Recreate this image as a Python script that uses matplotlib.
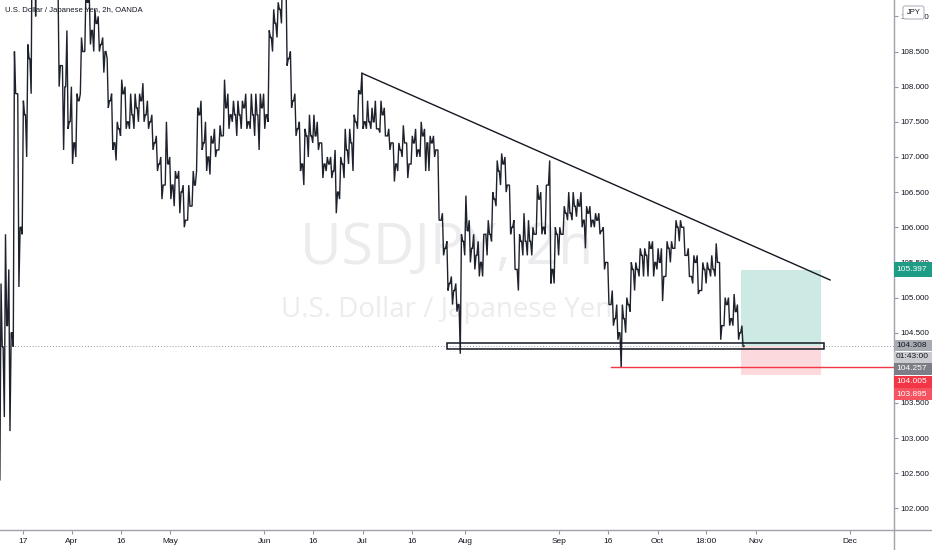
import numpy as np
import pandas as pd
import matplotlib
matplotlib.use('Agg')
import matplotlib.pyplot as plt
from matplotlib.patches import Rectangle, FancyBboxPatch
from matplotlib.lines import Line2D

# trading days on the chart (one OHLC per day)
days = pd.bdate_range('2020-03-10', '2020-10-28')

first_open = 102.4
high = [
    # Mar
    105.2, 105.9, 105.4, 108.5, 107.9, 107.8, 108.6, 110.7, 111.5, 111.6, 111.7, 111.6, 111.3, 109.5, 108.3, 108.8,
    # Apr
    108.0, 107.9, 108.7, 109.4, 109.3, 109.1, 109.0, 108.7, 108.4, 107.9, 107.5, 108.1, 108.0, 107.9, 107.9, 107.9,
    108.05, 107.8, 107.6, 107.3, 107.0, 107.5,
    # May
    107.0, 106.8, 106.8, 106.6, 106.6, 106.8, 107.7, 107.8, 107.5, 107.3, 107.4, 107.45, 108.1, 107.9, 107.8, 107.8,
    107.8, 107.9, 107.9, 107.9, 107.9,
    # Jun
    107.9, 108.8, 109.1, 109.2, 109.85, 109.6, 108.5, 107.9, 107.5, 107.4, 107.6, 107.6, 107.5, 107.2, 107.0, 107.0,
    107.1, 107.0, 107.4, 107.4, 107.6, 107.95,
    # Jul
    108.2, 107.8, 107.7, 107.8, 107.8, 107.7, 107.4, 107.2, 107.2, 107.45, 107.2, 107.3, 107.4, 107.5, 107.4, 107.3,
    107.3, 107.1, 106.2, 105.8, 105.3, 105.2, 105.9,
    # Aug
    106.45, 106.1, 105.9, 105.8, 105.9, 106.1, 106.5, 106.95, 107.05, 107.0, 106.6, 106.1, 105.9, 106.2, 106.1, 106.0,
    106.6, 106.5, 106.6, 106.95, 106.0,
    # Sep
    106.0, 106.3, 106.5, 106.5, 106.4, 106.5, 106.3, 106.3, 106.2, 106.2, 106.0, 105.5, 105.1, 104.9, 104.9, 105.0,
    105.5, 105.5, 105.7, 105.7, 105.8, 105.8,
    # Oct
    105.7, 105.7, 105.8, 105.8, 106.1, 106.1, 106.0, 105.7, 105.6, 105.6, 105.5, 105.5, 105.6, 105.77, 105.5, 105.0,
    105.0, 105.05, 104.9, 104.6,
]
low = [
    102.4, 103.3, 103.1, 104.3, 105.15, 105.9, 107.0, 107.9, 109.0, 109.6, 110.7, 110.5, 109.3, 108.0, 107.1, 107.4,
    106.9, 107.0, 107.9, 108.5, 108.6, 108.5, 108.5, 108.2, 107.7, 107.1, 106.95, 107.3, 107.4, 107.4, 107.4, 107.5,
    107.5, 107.4, 107.1, 106.8, 106.4, 106.6,
    106.4, 106.3, 106.2, 106.0, 106.1, 106.3, 106.8, 107.1, 106.8, 106.75, 107.0, 107.1, 107.3, 107.4, 107.5, 107.3,
    107.4, 107.4, 107.4, 107.3, 107.1,
    107.4, 107.5, 108.5, 108.7, 108.9, 108.3, 107.7, 107.3, 106.8, 106.6, 107.0, 107.2, 107.1, 106.7, 106.8, 106.7,
    106.2, 106.4, 106.7, 106.9, 106.8, 107.4,
    107.4, 107.4, 107.4, 107.4, 107.35, 107.3, 107.1, 106.65, 106.8, 107.0, 106.7, 106.9, 107.0, 107.0, 106.8, 106.8,
    107.0, 106.1, 105.6, 105.1, 104.9, 104.8, 104.2,
    105.6, 105.5, 105.4, 105.3, 105.3, 105.6, 105.8, 106.3, 106.6, 106.5, 105.9, 105.4, 105.1, 105.6, 105.6, 105.6,
    105.9, 105.9, 105.9, 105.2, 105.2,
    105.6, 105.9, 106.1, 106.1, 106.15, 106.0, 105.7, 106.0, 106.0, 105.9, 105.4, 104.9, 104.6, 104.4, 104.0, 104.5,
    104.8, 105.1, 105.3, 105.3, 105.3, 105.3,
    105.4, 104.95, 105.3, 105.5, 105.7, 105.8, 105.6, 105.3, 105.2, 105.05, 105.1, 105.2, 105.3, 105.3, 104.4, 104.6,
    104.6, 104.6, 104.4, 104.3,
]
close = [
    104.3, 104.6, 104.5, 107.9, 106.0, 107.6, 108.4, 110.7, 110.8, 111.2, 111.2, 111.2, 109.6, 108.3, 108.0, 107.5,
    107.2, 107.8, 108.5, 109.2, 108.8, 108.9, 108.6, 108.5, 107.8, 107.2, 107.4, 107.9, 107.5, 107.6, 107.7, 107.8,
    107.6, 107.5, 107.2, 106.9, 106.6, 106.9,
    106.6, 106.7, 106.5, 106.1, 106.3, 106.6, 107.6, 107.2, 107.0, 107.2, 107.1, 107.3, 107.7, 107.6, 107.6, 107.6,
    107.7, 107.5, 107.6, 107.6, 107.7,
    107.6, 108.7, 108.9, 109.1, 109.6, 108.4, 107.8, 107.4, 106.9, 107.3, 107.3, 107.3, 107.2, 106.9, 106.9, 106.8,
    106.5, 106.9, 107.1, 107.2, 107.5, 107.9,
    107.5, 107.5, 107.5, 107.4, 107.6, 107.3, 107.2, 106.9, 107.1, 107.2, 106.9, 107.2, 107.1, 107.3, 107.2, 107.2,
    107.1, 106.1, 105.7, 105.2, 105.1, 104.9, 105.8,
    105.95, 105.7, 105.6, 105.5, 105.9, 105.9, 106.4, 106.8, 106.9, 106.6, 106.0, 105.4, 105.8, 105.8, 105.8, 105.9,
    106.4, 106.0, 106.6, 105.4, 105.9,
    105.9, 106.2, 106.2, 106.3, 106.3, 106.1, 106.2, 106.1, 106.1, 105.95, 105.5, 104.9, 104.7, 104.5, 104.7, 104.9,
    105.4, 105.4, 105.6, 105.6, 105.7, 105.5,
    105.5, 105.3, 105.7, 105.7, 106.0, 106.0, 105.6, 105.3, 105.5, 105.1, 105.4, 105.4, 105.4, 105.5, 104.6, 104.9,
    104.7, 104.8, 104.5, 104.31,
]

# drawings on the chart
trend_start = ('2020-07-01', 108.19)
trend_end = ('2020-11-24', 105.25)
zone_low, zone_high = 104.27, 104.36
stop_line = 104.005
entry, target, stop = 104.308, 105.397, 103.895

# axis labels
yticks = np.arange(102.0, 109.01, 0.5)
xtick_dates = ['2020-03-17', '2020-04-01', '2020-04-16', '2020-05-01', '2020-06-01', '2020-06-16',
               '2020-07-01', '2020-07-16', '2020-08-03', '2020-09-01', '2020-09-16', '2020-10-01',
               '2020-10-15 18:00', '2020-11-02', '2020-12-01']
xtick_labels = ['17', 'Apr', '16', 'May', 'Jun', '16', 'Jul', '16', 'Aug', 'Sep', '16', 'Oct',
                '18:00', 'Nov', 'Dec']

# all trading days incl. the empty space to the right
all_days = pd.bdate_range('2020-03-10', '2020-12-31')
def day_idx(d):
    t = pd.Timestamp(d)
    return all_days.get_loc(t.normalize()) + (t - t.normalize()) / pd.Timedelta('1D')

W, H = 932, 550
fig = plt.figure(figsize=(W / 100, H / 100), dpi=100)
ax = fig.add_axes([0, 20 / H, 894 / W, 530 / H])
for s in ax.spines.values():
    s.set_visible(False)

tick_font = ['Liberation Sans Narrow', 'Liberation Sans', 'DejaVu Sans']
text_col = '#131722'

# watermark
ax.text(0.5, 0.53, 'USDJPY, 2h', transform=ax.transAxes, ha='center', va='center',
        fontsize=41, color='#ececee', family='Open Sans', zorder=0)
ax.text(0.5, 0.415, 'U.S. Dollar / Japanese Yen', transform=ax.transAxes, ha='center', va='center',
        fontsize=20, color='#ececee', family='Open Sans', zorder=0)

# price path: each day's open -> high/low -> low/high -> close, like the dense 2h bars
px, py = [], []
op = [first_open] + close[:-1]
for i in range(len(days)):
    o, h, l, c = op[i], high[i], low[i], close[i]
    mid = (l, h) if c >= o else (h, l)
    px += [i - 0.4, i - 0.13, i + 0.13, i + 0.4]
    py += [o, mid[0], mid[1], c]
ax.plot(px, py, color='#1e222d', lw=1.0, zorder=3, solid_joinstyle='miter')

# dotted last price line
ax.axhline(entry, color='#9598a1', lw=0.7, ls=(0, (1, 2)), zorder=1)

# trend line
ax.plot([day_idx(trend_start[0]) - 0.1, day_idx(trend_end[0]) + 0.6],
        [trend_start[1], trend_end[1]], color=text_col, lw=1, zorder=4)

# long position box
px0 = 165.7
pw = 17.9
ax.add_patch(Rectangle((px0, entry), pw, target - entry, facecolor='#cce9e4', lw=0, zorder=2))
ax.add_patch(Rectangle((px0, stop), pw, entry - stop, facecolor='#fcd9dc', lw=0, zorder=2))

# support zone
ax.add_patch(Rectangle((100.0, zone_low), 84.3, zone_high - zone_low, facecolor='none',
                       edgecolor=text_col, lw=1.1, zorder=5))

# stop line
ax.plot([136.6, 200], [stop_line, stop_line], color='#f23645', lw=1, zorder=4)

ax.set_xlim(-0.1, 199.9)
ax.set_ylim(101.693, 109.233)

ax.yaxis.tick_right()
ax.set_yticks(yticks)
ax.set_yticklabels(['%.3f' % v for v in yticks], family=tick_font, fontsize=5.8, color=text_col)
ax.tick_params(axis='y', length=3, width=0.8, color='#9598a1', pad=1.5)
ax.set_xticks([day_idx(d) for d in xtick_dates])
ax.set_xticklabels(xtick_labels, family=tick_font, fontsize=6, color=text_col)
ax.tick_params(axis='x', length=3, width=0.8, color='#9598a1', pad=3)

# pane borders
fig.add_artist(Line2D([0, 1], [20 / H, 20 / H], color='#a0a3ab', lw=1))
fig.add_artist(Line2D([894 / W, 894 / W], [0, 1], color='#a0a3ab', lw=1))

# title
fig.text(5 / W, 1 - 11 / H, 'U.S. Dollar / Japanese Yen, 2h, OANDA', fontsize=5.6,
         color=text_col, family=tick_font, va='center', ha='left')

# price labels on the right scale
def price_box(top, bottom, text, bg, fg):
    fig.add_artist(Rectangle((894 / W, 1 - bottom / H), 38 / W, (bottom - top) / H,
                             transform=fig.transFigure, facecolor=bg, lw=0, zorder=10))
    fig.text(912 / W, 1 - (top + bottom) / 2 / H, text, fontsize=6, color=fg, family=tick_font,
             ha='center', va='center', zorder=11)

price_box(262, 277, '%.3f' % target, '#1f9c86', 'white')
price_box(339.5, 351, '%.3f' % entry, '#a8abb2', text_col)
price_box(351.5, 362.5, '01:43:00', '#c9cbd1', text_col)
price_box(363, 375, '104.257', '#7b7e87', 'white')
price_box(375.5, 387.5, '%.3f' % stop_line, '#f23645', 'white')
price_box(388, 400, '%.3f' % stop, '#f7525f', 'white')

# currency badge
fig.add_artist(FancyBboxPatch((903 / W, 1 - 19 / H), 21 / W, 13 / H, boxstyle='round,pad=0,rounding_size=0.003',
                              transform=fig.transFigure, facecolor='white', edgecolor='#b2b5be', lw=0.8, zorder=10))
fig.text(913.5 / W, 1 - 12.5 / H, 'JPY', fontsize=5.5, color=text_col, family=tick_font,
         ha='center', va='center', zorder=11)

fig.savefig('out.png', dpi=100, facecolor='white')
